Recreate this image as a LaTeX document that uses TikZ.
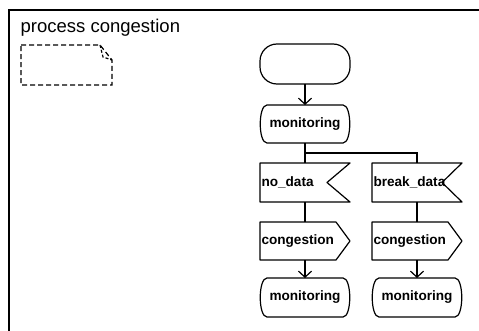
\documentclass[tikz,border=0pt]{standalone}
\usepackage{fontspec}
\setmainfont{Liberation Sans}
\usetikzlibrary{arrows.meta}

\tikzset{
  outline/.style={line width=1.2pt, line join=round},
  conn/.style={line width=1.2pt},
  arr/.style={conn, -{Straight Barb[length=6pt,width=13pt,line width=1.2pt]}},
  symbox/.style={minimum width=90pt, minimum height=39pt, inner sep=0pt, outer sep=0pt,
                 font=\fontsize{13.6}{15}\selectfont\bfseries},
  leftbox/.style={symbox, text width=87pt, align=left, inner xsep=1.5pt},
  notebox/.style={line width=1.2pt, dash pattern=on 5pt off 3pt},
}

\begin{document}
\begin{tikzpicture}[x=1pt, y=-1pt]
  \useasboundingbox (0,0) rectangle (479,331);

  % diagram frame
  \draw[line width=2pt] (9,332) -- (9,10) -- (480,10);
  \node[anchor=base west, inner sep=0pt, font=\fontsize{18.5}{20}\selectfont]
    (title) at (20.5,33) {process congestion};

  % comment symbol with folded corner
  \draw[notebox] (21,45) -- (100,45) -- (112,60) -- (112,85) -- (21,85) -- cycle;
  \draw[notebox, dash pattern=on 3pt off 2pt] (100,45) -- (103,57) -- (112,60);

  % start symbol
  \node[symbox, draw, outline, rounded corners=17pt, minimum height=40pt] (start) at (305,64) {};

  % state symbols
  \node[symbox, minimum height=38pt] (mon1) at (305,124) {monitoring};
  \node[symbox, minimum height=39pt] (mon2) at (305,297.5) {monitoring};
  \node[symbox, minimum height=39pt] (mon3) at (417,297.5) {monitoring};
  \foreach \n in {mon1,mon2,mon3}{
    \draw[outline]
      ([xshift=7pt]\n.north west) -- ([xshift=-7pt]\n.north east)
      .. controls ([xshift=2pt]\n.north east) and ([xshift=2pt]\n.south east) ..
      ([xshift=-7pt]\n.south east) -- ([xshift=7pt]\n.south west)
      .. controls ([xshift=-2pt]\n.south west) and ([xshift=-2pt]\n.north west) ..
      cycle;
  }

  % input signals
  \node[leftbox] (in1) at (305,182.5) {no\_data};
  \node[leftbox] (in2) at (417,182.5) {break\_data};
  \draw[outline] (in1.north west) -- (in1.north east) -- ([xshift=-23pt]in1.east)
    -- (in1.south east) -- (in1.south west) -- cycle;
  \draw[outline] (in2.north west) -- (in2.north east) -- ([xshift=-20pt]in2.east)
    -- (in2.south east) -- (in2.south west) -- cycle;

  % output signals
  \node[leftbox, minimum height=38pt] (out1) at (305,241) {congestion};
  \node[leftbox, minimum height=38pt] (out2) at (417,241) {congestion};
  \foreach \n in {out1,out2}{
    \draw[outline] (\n.north west) -- ([xshift=-14pt]\n.north east) -- (\n.east)
      -- ([xshift=-14pt]\n.south east) -- (\n.south west) -- cycle;
  }

  % connectors
  \draw[arr] (start) -- (mon1);
  \draw[conn] (mon1.south) -- ++(0,10) coordinate (split) -| (in2.north);
  \draw[conn] (split) -- (in1.north);
  \draw[conn] (in1) -- (out1);
  \draw[conn] (in2) -- (out2);
  \draw[arr] (out1) -- (mon2);
  \draw[arr] (out2) -- (mon3);
\end{tikzpicture}
\end{document}
